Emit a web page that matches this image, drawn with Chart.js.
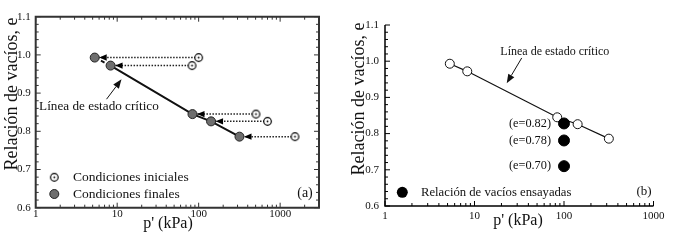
<!DOCTYPE html>
<html>
<head>
<meta charset="utf-8">
<script src="https://cdn.jsdelivr.net/npm/chart.js@4"></script>
<style>
  html, body { margin: 0; padding: 0; background: #fff; }
  #wrap { position: relative; width: 681px; height: 243px; }
  #panelA { position: absolute; left: 0; top: 0; }
  #panelB { position: absolute; left: 340px; top: 0; }
</style>
</head>
<body>
<div id="wrap">
  <canvas id="panelA" width="340" height="243"></canvas>
  <canvas id="panelB" width="341" height="243"></canvas>
</div>
<script>
const SERIF = '"Liberation Serif", "Times New Roman", serif';
const INK = '#111';

// valores
const pInicial = [100, 83, 505, 700, 1520];   // kPa, condiciones iniciales
const pFinal = [5.3, 8.3, 84, 142, 317];       // kPa, condiciones finales
const eEnsayo = [0.993, 0.972, 0.845, 0.826, 0.786];
const pEnsayadas = [100, 100, 100];
const eEnsayadas = [0.828, 0.781, 0.71];
const etiquetasE = ['(e=0.82)', '(e=0.78)', '(e=0.70)'];
const xTicks = [1, 10, 100, 1000];
const yTicks = [0.6, 0.7, 0.8, 0.9, 1.0, 1.1];
const xMaxA = 3000;

const pts = (xs, ys) => xs.map((x, i) => ({ x, y: ys[i] }));

// ticks mayores + menores
function ticksLog(min, max) {
  const out = [];
  for (let d = xTicks[0]; d <= max; d *= 10) {
    for (let k = 1; k <= 9; k++) {
      const v = k * d;
      if (v >= min && v <= max) out.push({ value: v, big: xTicks.includes(v) });
    }
  }
  return out;
}
function ticksLin() {
  const out = [];
  yTicks.forEach((v, i) => {
    out.push({ value: v, big: true });
    if (i < yTicks.length - 1) {
      const step = (yTicks[i + 1] - v) / 5;
      for (let k = 1; k < 5; k++) out.push({ value: +(v + k * step).toFixed(3), big: false });
    }
  });
  return out;
}

function escalas(xMax, padX, padY, anchoY, altoX) {
  const font = { family: SERIF, size: 11 };
  return {
    x: {
      type: 'logarithmic', min: xTicks[0], max: xMax,
      grid: { display: false, drawTicks: false }, border: { display: false },
      afterBuildTicks: s => { s.ticks = ticksLog(s.min, s.max); },
      afterFit: s => { s.height = altoX; },
      ticks: { autoSkip: false, maxRotation: 0, padding: padX, color: INK, font,
        callback: (v, i, t) => t[i].big ? String(v) : '' }
    },
    y: {
      type: 'linear', min: yTicks[0], max: yTicks[yTicks.length - 1],
      grid: { display: false, drawTicks: false }, border: { display: false },
      afterBuildTicks: s => { s.ticks = ticksLin(); },
      afterFit: s => { s.width = anchoY; },
      ticks: { autoSkip: false, padding: padY, color: INK, font,
        callback: (v, i, t) => t[i].big ? v.toFixed(1) : '' }
    }
  };
}

// marco y ticks hacia dentro
function marco(box, color, lw) {
  return {
    id: 'marco',
    afterDatasetsDraw(chart) {
      const { ctx, chartArea: a, scales: { x, y } } = chart;
      ctx.save();
      ctx.strokeStyle = color;
      ctx.lineWidth = 1;
      ctx.beginPath();
      x.ticks.forEach(t => {
        const px = x.getPixelForValue(t.value), len = t.big ? 5 : 3;
        ctx.moveTo(px, a.bottom); ctx.lineTo(px, a.bottom - len);
        if (box) { ctx.moveTo(px, a.top); ctx.lineTo(px, a.top + len); }
      });
      y.ticks.forEach(t => {
        const py = y.getPixelForValue(t.value), len = t.big ? 5 : 3;
        ctx.moveTo(a.left, py); ctx.lineTo(a.left + len, py);
        if (box) { ctx.moveTo(a.right, py); ctx.lineTo(a.right - len, py); }
      });
      ctx.stroke();
      ctx.lineWidth = lw;
      ctx.beginPath();
      if (box) {
        ctx.rect(a.left, a.top, a.right - a.left, a.bottom - a.top);
      } else {
        ctx.moveTo(a.left, a.top); ctx.lineTo(a.left, a.bottom); ctx.lineTo(a.right, a.bottom);
      }
      ctx.stroke();
      ctx.restore();
    }
  };
}

function texto(ctx, s, x, y, size, align, rot) {
  ctx.save();
  ctx.font = size + 'px ' + SERIF;
  ctx.fillStyle = INK;
  ctx.textAlign = align || 'left';
  ctx.textBaseline = 'middle';
  ctx.translate(x, y);
  if (rot) ctx.rotate(rot);
  ctx.fillText(s, 0, 0);
  ctx.restore();
}

function flecha(ctx, x0, y0, x1, y1) {
  const ang = Math.atan2(y1 - y0, x1 - x0), L = 9, W = 3.5;
  const bx = x1 - L * Math.cos(ang), by = y1 - L * Math.sin(ang);
  ctx.save();
  ctx.strokeStyle = INK; ctx.fillStyle = INK; ctx.lineWidth = 1;
  ctx.beginPath(); ctx.moveTo(x0, y0); ctx.lineTo(bx, by); ctx.stroke();
  ctx.beginPath();
  ctx.moveTo(x1, y1);
  ctx.lineTo(bx + W * Math.sin(ang), by - W * Math.cos(ang));
  ctx.lineTo(bx - W * Math.sin(ang), by + W * Math.cos(ang));
  ctx.closePath(); ctx.fill();
  ctx.restore();
}

// circulo abierto con punto central (panel a)
const circAbierto = document.createElement('canvas');
circAbierto.width = 11; circAbierto.height = 11;
(() => {
  const c = circAbierto.getContext('2d');
  c.fillStyle = '#fff'; c.strokeStyle = '#000'; c.lineWidth = 1.2;
  c.beginPath(); c.arc(5.5, 5.5, 3.8, 0, Math.PI * 2); c.fill(); c.stroke();
  c.fillStyle = '#000';
  c.beginPath(); c.arc(5.5, 5.5, 0.9, 0, Math.PI * 2); c.fill();
})();

function circulo(ctx, x, y, r, fill, stroke) {
  ctx.save();
  ctx.fillStyle = fill; ctx.strokeStyle = stroke; ctx.lineWidth = 1;
  ctx.beginPath(); ctx.arc(x, y, r, 0, Math.PI * 2); ctx.fill();
  if (stroke) ctx.stroke();
  ctx.restore();
}

const comunes = {
  responsive: false, animation: false, events: [], devicePixelRatio: 1,
  plugins: { legend: { display: false }, tooltip: { enabled: false } }
};

// ---------- panel (a) ----------
const flechas = pInicial.map((p, i) => ({
  data: pts([p, pFinal[i]], [eEnsayo[i], eEnsayo[i]]),
  showLine: true, borderColor: '#222', borderWidth: 1.5, borderDash: [1.5, 1.5],
  pointRadius: 0, order: 3
}));

const puntasA = {
  id: 'puntasA',
  afterDatasetsDraw(chart) {
    const { ctx, scales: { x, y } } = chart;
    ctx.save();
    ctx.fillStyle = '#000';
    pFinal.forEach((p, i) => {
      const px = x.getPixelForValue(p), py = y.getPixelForValue(eEnsayo[i]);
      ctx.beginPath();
      ctx.moveTo(px + 4.5, py); ctx.lineTo(px + 12, py - 3.2); ctx.lineTo(px + 12, py + 3.2);
      ctx.closePath(); ctx.fill();
    });
    ctx.restore();
  }
};

const notasA = {
  id: 'notasA',
  afterDraw(chart) {
    const { ctx, chartArea: a, scales: { x, y } } = chart;
    texto(ctx, 'Línea de estado crítico', x.getPixelForValue(1.1), y.getPixelForValue(0.864), 13.2);
    flecha(ctx, x.getPixelForValue(7.4), y.getPixelForValue(0.884), x.getPixelForValue(11.3), y.getPixelForValue(0.936));
    ctx.drawImage(circAbierto, a.left + 18.6 - 5.5, a.bottom - 30.4 - 5.5);
    texto(ctx, 'Condiciones iniciales', a.left + 37.3, a.bottom - 30.4, 13.5);
    circulo(ctx, a.left + 18.6, a.bottom - 13.7, 4.5, '#6e6e6e', '#222');
    texto(ctx, 'Condiciones finales', a.left + 37.3, a.bottom - 13.7, 13.5);
    texto(ctx, '(a)', a.right - 14, a.bottom - 14.4, 14, 'center');
    texto(ctx, 'Relación de vacíos, e', 12, 94, 18, 'center', -Math.PI / 2);
    texto(ctx, "p' (kPa)", 168, 224, 16, 'center');
  }
};

new Chart(document.getElementById('panelA'), {
  type: 'scatter',
  data: {
    datasets: [
      {
        data: pts(pInicial, eEnsayo), pointStyle: circAbierto, pointRadius: 4, order: 1
      },
      {
        data: pts(pFinal, eEnsayo), showLine: true, borderColor: INK, borderWidth: 2,
        segment: { borderDash: c => c.p0DataIndex === 0 ? [4, 3] : undefined },
        pointRadius: 4.5, pointBackgroundColor: '#6e6e6e', pointBorderColor: '#222', pointBorderWidth: 1,
        order: 2
      },
      ...flechas
    ]
  },
  options: {
    ...comunes,
    layout: { padding: { top: 16.7, right: 21, left: 0, bottom: 0 } },
    scales: escalas(xMaxA, 0, 5, 35.7, 35.3)
  },
  plugins: [puntasA, marco(true, '#333', 2), notasA]
});

// ---------- panel (b) ----------
const notasB = {
  id: 'notasB',
  afterDraw(chart) {
    const { ctx, chartArea: a, scales: { x, y } } = chart;
    texto(ctx, 'Línea de estado crítico', x.getPixelForValue(79), y.getPixelForValue(1.026), 12, 'center');
    flecha(ctx, x.getPixelForValue(33.7), y.getPixelForValue(1.009), x.getPixelForValue(22.9), y.getPixelForValue(0.939));
    etiquetasE.forEach((s, i) => {
      texto(ctx, s, x.getPixelForValue(pEnsayadas[i]) - 13, y.getPixelForValue(eEnsayadas[i]), 12.3, 'right');
    });
    circulo(ctx, a.left + 17.3, a.bottom - 13.7, 5.5, '#000');
    texto(ctx, 'Relación de vacíos ensayadas', a.left + 36, a.bottom - 13.7, 12.7);
    texto(ctx, '(b)', a.right - 9.5, a.bottom - 14.3, 13, 'center');
    texto(ctx, 'Relación de vacíos, e', 19, 99, 18, 'center', -Math.PI / 2);
    texto(ctx, "p' (kPa)", 178, 221, 16, 'center');
  }
};

new Chart(document.getElementById('panelB'), {
  type: 'scatter',
  data: {
    datasets: [
      {
        data: pts(pEnsayadas, eEnsayadas), pointRadius: 5.5,
        pointBackgroundColor: '#000', pointBorderColor: '#000', order: 1
      },
      {
        data: pts(pFinal, eEnsayo), showLine: true, borderColor: INK, borderWidth: 1.2,
        pointRadius: 4.5, pointBackgroundColor: '#fff', pointBorderColor: INK, pointBorderWidth: 1,
        order: 2
      }
    ]
  },
  options: {
    ...comunes,
    layout: { padding: { top: 25, right: 27.5, left: 0, bottom: 0 } },
    scales: escalas(1000, 4, 6, 45, 37)
  },
  plugins: [marco(false, '#000', 1.5), notasB]
});
</script>
</body>
</html>
